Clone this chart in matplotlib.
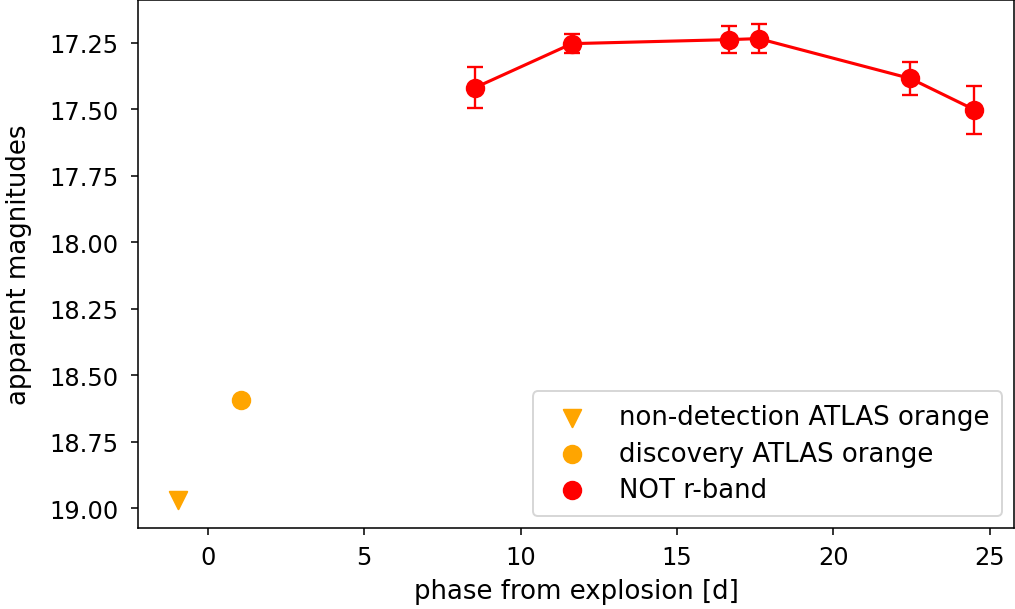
import matplotlib
matplotlib.use("Agg")
import matplotlib.pyplot as plt

# NOT r-band light curve
not_phase = [8.55, 11.64, 16.65, 17.61, 22.46, 24.5]
not_mag = [17.419, 17.254, 17.239, 17.235, 17.385, 17.502]
not_err = [0.077, 0.036, 0.050, 0.056, 0.062, 0.090]

# ATLAS orange points
nondet_phase = [-0.96]
nondet_mag = [18.97]
disc_phase = [1.05]
disc_mag = [18.594]

fig = plt.figure(figsize=(7.25, 4.357), dpi=140)
ax = fig.add_axes([138 / 1015, 81 / 610, 876 / 1015, 528 / 610])

ax.scatter(nondet_phase, nondet_mag, marker="v", s=81, color="orange",
           label="non-detection ATLAS orange", zorder=3)
ax.scatter(disc_phase, disc_mag, marker="o", s=81, color="orange",
           label="discovery ATLAS orange", zorder=3)
ax.errorbar(not_phase, not_mag, yerr=not_err, color="red", capsize=4,
            elinewidth=1.2, capthick=1.2, lw=1.6, zorder=2)
ax.scatter(not_phase, not_mag, marker="o", s=81, color="red",
           label="NOT r-band", zorder=3)

ax.set_ylim(19.075, 17.09)
ax.tick_params(axis="both", labelsize=12.4)
ax.tick_params(axis="y", pad=6.5)
ax.tick_params(axis="x", pad=5)
ax.set_xlabel("phase from explosion [d]", fontsize=13.4, labelpad=5)
ax.set_ylabel("apparent magnitudes", fontsize=13.4, labelpad=9)
ax.legend(loc="lower right", fontsize=13.4, labelspacing=0.4,
          borderaxespad=0.45, borderpad=0.5)

fig.savefig("out.png", dpi=140)
